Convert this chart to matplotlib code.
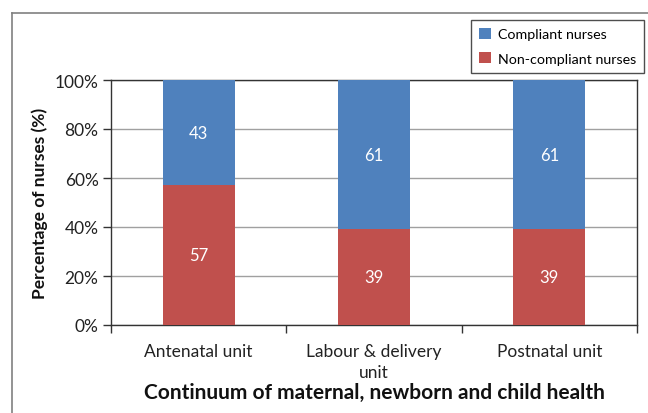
import matplotlib
matplotlib.use("Agg")
import matplotlib.pyplot as plt
from matplotlib.lines import Line2D
from matplotlib.patches import Patch
import numpy as np

categories = ["Antenatal unit", "Labour & delivery\nunit", "Postnatal unit"]
non_compliant = [57, 39, 39]
compliant = [43, 61, 61]
series_names = ["Compliant nurses", "Non-compliant nurses"]
yticks = [0, 20, 40, 60, 80, 100]

BLUE = "#4F81BD"
RED = "#C0504D"
plt.rcParams['font.family'] = ['Lato', 'DejaVu Sans']

fig = plt.figure(figsize=(6.48, 4.14), dpi=100)
ax = fig.add_axes([111/648, 1-326/414, (637-111)/648, (326-81)/414])

x = np.arange(len(categories))
w = 0.41
ax.bar(x, non_compliant, width=w, color=RED, zorder=3)
ax.bar(x, compliant, width=w, bottom=non_compliant, color=BLUE, zorder=3)
for xi, nc, c in zip(x, non_compliant, compliant):
    ax.text(xi, nc/2, str(nc), ha='center', va='center', color='white', fontsize=12, zorder=4)
    ax.text(xi, nc + c/2, str(c), ha='center', va='center', color='white', fontsize=12, zorder=4)

ax.set_xlim(-0.5, len(categories)-0.5)
ax.set_ylim(0, 100)
ax.set_yticks(yticks)
ax.set_yticklabels([f"{v}%" for v in yticks], fontsize=12.5, color='#222222')
ax.yaxis.grid(True, color='#a0a0a0', linewidth=1, zorder=0)
ax.tick_params(axis='y', direction='out', length=6, width=1, color='#333333', pad=3)

ax.set_xticks(np.arange(-0.5, len(categories), 1.0))
ax.set_xticklabels([])
ax.tick_params(axis='x', which='major', direction='out', length=6, width=1, color='#333333')
ax.set_xticks(x, minor=True)
ax.set_xticklabels(categories, minor=True, fontsize=12.5, color='#222222', linespacing=1.35)
ax.tick_params(axis='x', which='minor', length=0, pad=13)

for s in ax.spines.values():
    s.set_color('#333333')
    s.set_linewidth(1)

ax.set_ylabel("Percentage of nurses (%)", fontsize=12.5, fontweight='bold', color='#111111', labelpad=5)
ax.set_xlabel("Continuum of maternal, newborn and child health", fontsize=15, fontweight='bold', color='#111111', labelpad=2)

handles = [Patch(facecolor=BLUE), Patch(facecolor=RED)]
leg = fig.legend(handles, series_names, loc='upper right', bbox_to_anchor=(644/648, 1-21/414),
                 frameon=True, fancybox=False, fontsize=10.3, handlelength=0.8, handleheight=0.8,
                 handletextpad=0.5, borderpad=0.55, labelspacing=0.85, borderaxespad=0)
leg.get_frame().set_edgecolor('#222222')
leg.get_frame().set_linewidth(1)

fig.add_artist(Line2D([12/648, 12/648], [0, 1-14/414], color='#808080', linewidth=1.2, transform=fig.transFigure))
fig.add_artist(Line2D([12/648, 1], [1-14/414, 1-14/414], color='#808080', linewidth=1.2, transform=fig.transFigure))

fig.savefig("out.png", dpi=100)
